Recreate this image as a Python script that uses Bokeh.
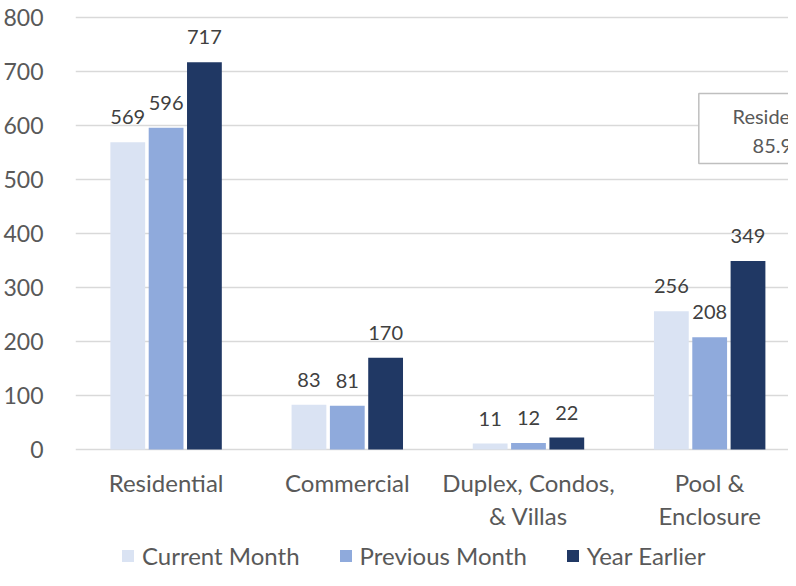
from bokeh.plotting import figure
from bokeh.models import ColumnDataSource, Range1d, FixedTicker, Legend, LegendItem
from bokeh.transform import dodge
from bokeh.core.properties import value
from bokeh.embed import file_html
from bokeh.resources import INLINE

# ---- data ----
categories = ["Residential", "Commercial", "Duplex, Condos,\n& Villas", "Pool &\nEnclosure"]
current_month = [569, 83, 11, 256]
previous_month = [596, 81, 12, 208]
year_earlier = [717, 170, 22, 349]
series_names = ["Current Month", "Previous Month", "Year Earlier"]
y_ticks = [0, 100, 200, 300, 400, 500, 600, 700, 800]
callout_lines = ["Residential", "85.9%"]

# ---- styles ----
colors = ["#DAE3F3", "#8FAADC", "#203864"]
FONT = "Lato"
AXIS_TXT = "#595959"
LABEL_TXT = "#404040"
GRID = "#D9D9D9"
BAR_W = 0.192
PITCH = 0.2115

idx = list(range(len(categories)))
src = ColumnDataSource(dict(
    x=idx,
    cur=current_month, prev=previous_month, yr=year_earlier,
    cur_t=[str(v) for v in current_month],
    prev_t=[str(v) for v in previous_month],
    yr_t=[str(v) for v in year_earlier],
))

p = figure(width=788, height=570, output_backend="svg", toolbar_location=None,
           x_range=Range1d(-0.5, 3.435), y_range=Range1d(-224.07, 809.26),
           min_border_left=73, min_border_right=0, min_border_top=12,
           min_border_bottom=0)
p.outline_line_color = None
p.background_fill_color = "white"
p.border_fill_color = "white"

p.xgrid.visible = False
p.ygrid.ticker = FixedTicker(ticks=y_ticks)
p.ygrid.grid_line_color = GRID
p.ygrid.grid_line_width = 1.5

p.yaxis.ticker = FixedTicker(ticks=y_ticks)
p.yaxis.axis_line_color = None
p.yaxis.major_tick_line_color = None
p.yaxis.minor_tick_line_color = None
p.yaxis.major_label_text_font = FONT
p.yaxis.major_label_text_font_size = "23px"
p.yaxis.major_label_text_color = AXIS_TXT
p.yaxis.major_label_standoff = 26

p.xaxis.fixed_location = 0
p.xaxis.ticker = FixedTicker(ticks=idx)
p.xaxis.major_label_overrides = {i: c for i, c in enumerate(categories)}
p.xaxis.axis_line_color = None
p.xaxis.major_tick_line_color = None
p.xaxis.minor_tick_line_color = None
p.xaxis.major_tick_out = 0
p.xaxis.major_tick_in = 0
p.xaxis.major_label_text_font = FONT
p.xaxis.major_label_text_font_size = "24px"
p.xaxis.major_label_text_color = AXIS_TXT
p.xaxis.major_label_text_line_height = 1.146
p.xaxis.major_label_standoff = 18

renderers = []
for k, (col, off) in enumerate([("cur", -PITCH), ("prev", 0.0), ("yr", PITCH)]):
    r = p.vbar(x=dodge("x", off, range=p.x_range), top=col, width=BAR_W, bottom=0,
               source=src, fill_color=colors[k], line_color=None)
    renderers.append(r)
    p.text(x=dodge("x", off, range=p.x_range), y=col, text=col + "_t", source=src,
           text_font=value(FONT), text_font_size="20px", text_color=LABEL_TXT,
           text_align="center", text_baseline="middle", y_offset=-25)

# callout box near the last category
cx = idx[-1] + 0.39
p.rect(x=[cx], y=[594.4], width=[0.9], height=[129.6], fill_color="white",
       line_color="#BFBFBF", line_width=1.5)
p.text(x=[cx, cx], y=[618.5, 564.8], text=callout_lines, text_font=value(FONT),
       text_font_size="20px", text_color=AXIS_TXT, text_align="center",
       text_baseline="middle")

legend = Legend(items=[LegendItem(label=value(n), renderers=[r]) for n, r in zip(series_names, renderers)],
                location=(45, 0), orientation="horizontal",
                glyph_width=15, glyph_height=15, label_standoff=7, spacing=38,
                padding=0, margin=0, border_line_color=None, background_fill_alpha=0,
                label_text_font=FONT, label_text_font_size="24px", label_text_color=AXIS_TXT)
p.add_layout(legend)

open("out.html", "w").write(file_html(p, INLINE))
